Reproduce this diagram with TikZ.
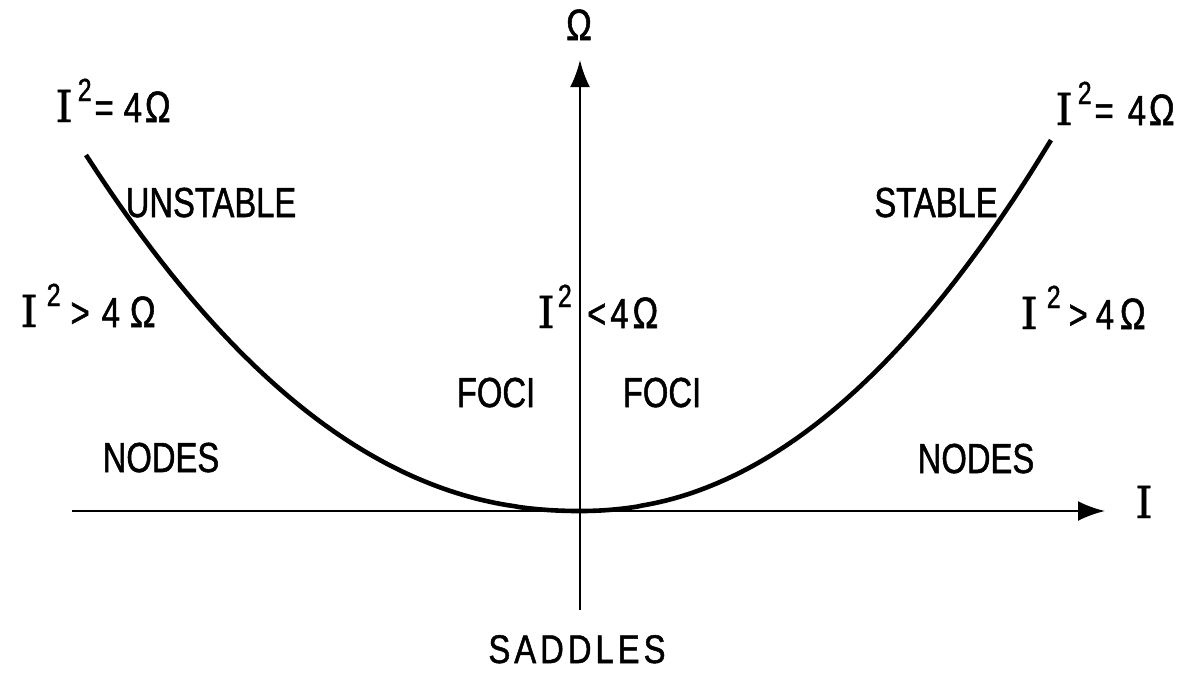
\documentclass[tikz,border=0pt]{standalone}
\usepackage{fontspec}
\setmainfont{Liberation Sans}
\newfontfamily\lab[FakeStretch=0.78,FakeBold=1.2]{Liberation Sans}
\newfontfamily\labwide[FakeStretch=0.82,FakeBold=1.2,LetterSpace=10]{Liberation Sans}
\newfontfamily\serI[FakeBold=1]{DejaVu Serif}
\usetikzlibrary{arrows.meta}
\newcommand{\II}{{\fontsize{44}{44}\serI I}}
\newcommand{\SQ}{\raisebox{21pt}{\fontsize{32}{32}\lab 2}}
\newcommand{\OM}{{\fontsize{44}{44}\lab Ω}}
\begin{document}
\begin{tikzpicture}[x=1pt,y=-1pt,
  axis/.style={line width=2.6pt,-{Latex[length=27pt,width=20pt]}},
  curve/.style={line width=4.6pt},
  lbl/.style={inner sep=0pt,anchor=base,font=\fontsize{42}{42}\lab},
]
\useasboundingbox (0,0) rectangle (1184,673);
\coordinate (xs) at (72,511);
\coordinate (xe) at (1105,511);
\coordinate (ys) at (580,610);
\coordinate (ye) at (580,60);
\draw[axis] (xs) -- (xe);
\draw[axis] (ys) -- (ye);
\draw[curve] plot[domain=494:0.5,samples=100] ({580-\x},{511-356*pow(\x/494,2.15)})
  -- plot[domain=0.5:471,samples=100] ({580+\x},{511-371*pow(\x/471,2.1)});
\node[lbl] (om) at (579,40) {\OM};
\node[lbl] (ilab) at (1144,518) {\II};
\node[lbl] (eqL) at (113,122) {\II\kern5pt\SQ\kern3pt=\kern10pt 4\kern3pt\OM};
\node[lbl] (eqR) at (1115,125) {\II\kern5pt\SQ\kern3pt=\kern14pt 4\kern3pt\OM};
\node[lbl] (unst) at (211,217) {UNSTABLE};
\node[lbl] (stab) at (936,217) {STABLE};
\node[lbl] (gtL) at (88,327) {\II\kern9pt\SQ\kern10pt>\kern12pt 4\kern10pt\OM};
\node[lbl] (gtR) at (1083,329) {\II\kern9pt\SQ\kern8pt>\kern8pt 4\kern6pt\OM};
\node[lbl,anchor=base east] (ltI) at (572,328) {\II\kern3pt\SQ};
\node[lbl,anchor=base west] (ltR) at (587,328) {<\kern4pt 4\kern4pt\OM};
\node[lbl] (fociL) at (496,407) {FOCI};
\node[lbl] (fociR) at (662,407) {FOCI};
\node[lbl] (nodL) at (161,472) {NODES};
\node[lbl] (nodR) at (976,473) {NODES};
\node[lbl,font=\fontsize{40}{40}\labwide] (sad) at (577,663) {SADDLES};
\end{tikzpicture}
\end{document}
